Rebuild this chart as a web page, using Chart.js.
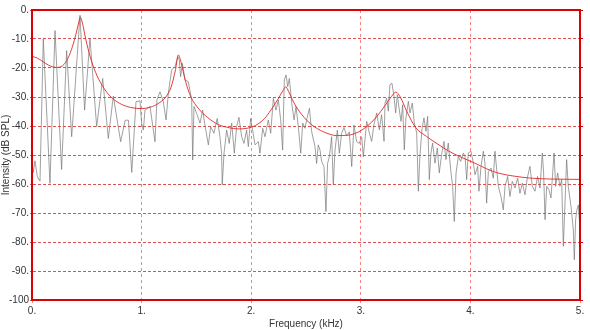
<!DOCTYPE html>
<html>
<head>
<meta charset="utf-8">
<script src="https://cdn.jsdelivr.net/npm/chart.js@4/dist/chart.umd.min.js"></script>
<style>
html,body{margin:0;padding:0;background:#fff;}
#wrap{width:590px;height:330px;position:relative;}
</style>
</head>
<body>
<div id="wrap"><canvas id="c" width="590" height="330"></canvas></div>
<script>
// Spectrum (gray) frequencies in kHz and levels in dB SPL
const specFreq = [0.0,0.012,0.027,0.049,0.073,0.103,0.164,0.21,0.27,0.316,0.362,0.438,0.48,0.529,0.59,0.645,0.696,0.742,0.809,0.85,0.88,0.91,0.949,0.985,1.0,1.016,1.031,1.077,1.122,1.14,1.168,1.198,1.223,1.244,1.274,1.305,1.33,1.344,1.356,1.372,1.396,1.426,1.457,1.466,1.478,1.502,1.533,1.557,1.578,1.609,1.63,1.66,1.69,1.715,1.73,1.736,1.752,1.776,1.8,1.822,1.846,1.867,1.888,1.913,1.934,1.958,1.974,1.995,2.013,2.035,2.065,2.08,2.105,2.126,2.156,2.178,2.202,2.226,2.248,2.269,2.287,2.302,2.318,2.333,2.348,2.37,2.391,2.409,2.43,2.452,2.47,2.491,2.506,2.531,2.552,2.582,2.597,2.612,2.628,2.643,2.664,2.682,2.697,2.713,2.734,2.749,2.765,2.786,2.804,2.825,2.847,2.871,2.895,2.917,2.938,2.962,2.986,3.008,3.023,3.038,3.054,3.078,3.099,3.12,3.145,3.169,3.19,3.212,3.221,3.236,3.251,3.266,3.284,3.303,3.318,3.333,3.351,3.367,3.382,3.397,3.412,3.434,3.449,3.47,3.488,3.51,3.525,3.54,3.558,3.576,3.595,3.61,3.625,3.64,3.655,3.677,3.698,3.716,3.737,3.759,3.777,3.798,3.82,3.838,3.853,3.869,3.89,3.911,3.935,3.951,3.966,3.981,4.005,4.027,4.042,4.066,4.078,4.097,4.118,4.133,4.148,4.164,4.188,4.209,4.224,4.24,4.255,4.279,4.3,4.316,4.34,4.361,4.382,4.407,4.431,4.452,4.474,4.498,4.519,4.543,4.565,4.589,4.613,4.635,4.656,4.668,4.681,4.696,4.717,4.735,4.751,4.763,4.778,4.796,4.817,4.833,4.848,4.863,4.878,4.893,4.918,4.939,4.948,4.96,4.972,4.985,4.994,5.0];
const specDb = [-52.9,-56,-52,-57.5,-59,-10,-59.8,-7.1,-55,-14,-43.7,-1.8,-34.5,-9.8,-40.2,-23.6,-44.3,-29.7,-45.4,-38,-38,-56,-31.6,-31.3,-39,-41.4,-34.5,-33.3,-45.4,-31,-28.2,-31.6,-37.9,-28.7,-20.7,-19.5,-16.1,-17.2,-23,-18.4,-24.1,-24.7,-31,-51.7,-33.3,-35.6,-39,-34.5,-39.7,-46.5,-40.2,-42.5,-37.4,-43.7,-49.4,-60.3,-49.4,-41.4,-46,-39,-49.4,-40.2,-37,-43.7,-46,-41.4,-47.1,-37.4,-41.4,-46.5,-45.4,-49.4,-40.8,-43.7,-37.9,-42.5,-30.5,-34.5,-31,-37.9,-48.3,-24.1,-22.4,-26.4,-23.6,-32.2,-37.9,-33.3,-40.2,-49.4,-39,-40.8,-37.9,-33.9,-42,-47.1,-52.9,-46.5,-48.3,-52.3,-54,-69.5,-52.9,-50.6,-43.7,-60.3,-48.3,-41.4,-49.4,-42.5,-40.5,-43.4,-42,-54,-39.7,-45.4,-46,-43.7,-50.6,-44.7,-38.4,-42.4,-45.3,-39.5,-35.5,-41.3,-36.1,-45.3,-32.1,-30.4,-34.9,-25.8,-25.2,-29.8,-35.5,-29.2,-34.4,-38.4,-32.7,-48.2,-37.2,-31.5,-35.5,-32.1,-38.9,-42.4,-62.5,-49.9,-41.3,-37.2,-41.8,-36.7,-58.5,-49.3,-45.9,-52.8,-47.6,-56.2,-49.9,-45.3,-51.6,-45.9,-55.1,-60.8,-72.9,-56.2,-50.5,-52.2,-49.3,-50.5,-58.5,-49.3,-48.7,-52.8,-56.8,-53.9,-62.5,-53.9,-48.7,-52.8,-66.6,-55.7,-54.5,-58,-48.7,-55.1,-60.8,-64.3,-68.9,-60.8,-57.4,-64.3,-59.1,-61.4,-58,-63.2,-59.7,-63.7,-58,-53.9,-60.8,-62.5,-57.4,-61.4,-49.3,-56.2,-72.3,-60.8,-62,-64.8,-56.2,-49.3,-60.8,-56.2,-60.8,-58.5,-81.5,-66.6,-51.6,-60.8,-67.7,-75.8,-86.1,-72.3,-68.9,-67.2,-72.3,-75.8];

// LPC envelope (red)
const envFreq = [0.0,0.05,0.10,0.15,0.22,0.28,0.33,0.37,0.40,0.425,0.44,0.46,0.49,0.53,0.58,0.64,0.71,0.80,0.90,1.00,1.08,1.15,1.22,1.27,1.31,1.335,1.36,1.40,1.45,1.52,1.60,1.70,1.80,1.88,1.96,2.04,2.12,2.18,2.24,2.29,2.315,2.34,2.39,2.46,2.55,2.66,2.78,2.88,2.98,3.06,3.14,3.22,3.28,3.32,3.36,3.42,3.50,3.60,3.70,3.80,3.90,4.04,4.15,4.25,4.40,4.56,4.75,5.00];
const envDb = [-16.0,-16.6,-17.8,-19.0,-19.8,-19.2,-16.5,-12.5,-8.5,-4.5,-2.5,-4.5,-10,-16,-21.5,-26,-29.6,-32.2,-33.6,-34,-33.5,-32.3,-30,-26.5,-20.5,-15.5,-18,-24.5,-30,-34,-37,-39.5,-40.6,-41,-40.8,-39.8,-37.5,-34.5,-31,-27.8,-26.5,-28,-32,-36,-39.5,-42,-43.3,-43.2,-42,-40,-37,-33,-29.8,-28.3,-30,-35,-40.5,-43.6,-46.2,-48.6,-50.5,-52.8,-54.8,-56.2,-57.3,-58,-58.3,-58.4];

const xTicks = [0,1,2,3,4,5];
const yTicks = [0,-10,-20,-30,-40,-50,-60,-70,-80,-90,-100];

const spec = specFreq.map((f,i)=>({x:f,y:specDb[i]}));
const env = envFreq.map((f,i)=>({x:f,y:envDb[i]}));

const frame = {
  id:'frame',
  afterDatasetsDraw(chart){
    const a = chart.chartArea, ctx = chart.ctx;
    ctx.save();
    ctx.strokeStyle = '#dd0000';
    ctx.lineWidth = 2;
    ctx.strokeRect(a.left, a.top, a.right-a.left, a.bottom-a.top);
    ctx.restore();
  }
};

const font = {family:'Arial, "Liberation Sans", sans-serif', size:10};

new Chart(document.getElementById('c'), {
  type:'line',
  data:{datasets:[
    {data:spec, borderColor:'rgba(120,120,120,0.7)', borderWidth:1, pointRadius:0, tension:0, order:2},
    {data:env, borderColor:'rgba(225,40,40,0.9)', borderWidth:1, pointRadius:0, cubicInterpolationMode:'monotone', order:1}
  ]},
  options:{
    responsive:false, animation:false,
    layout:{padding:{top:10,left:0,right:0,bottom:0}},
    plugins:{legend:{display:false}, tooltip:{enabled:false}},
    scales:{
      x:{type:'linear', min:0, max:5,
        afterBuildTicks(s){ s.ticks = xTicks.map(v=>({value:v})); },
        afterFit(s){ s.height = 30; },
        ticks:{font, color:'#333', padding:2, maxRotation:0, callback:v=>v+'.'},
        grid:{color:'rgba(240,110,110,0.85)', lineWidth:1, tickLength:3, drawTicks:true},
        border:{display:true, color:'#dd0000', width:2, dash:[3,3]},
        title:{display:true, text:'Frequency (kHz)', font, color:'#333', padding:{top:0,bottom:0}}
      },
      y:{type:'linear', min:-100, max:0, position:'left',
        afterBuildTicks(s){ s.ticks = yTicks.map(v=>({value:v})); },
        afterFit(s){ s.width = 32; },
        ticks:{font, color:'#333', padding:1, callback:v=> v===-100 ? '-100' : v+'.'},
        grid:{color:'rgba(215,50,50,0.85)', lineWidth:1, tickLength:2},
        border:{display:true, color:'#dd0000', width:2, dash:[3,2]},
        title:{display:true, text:'Intensity (dB SPL)', font, color:'#333', padding:{top:0,bottom:2}}
      },
      y2:{type:'linear', min:-100, max:0, position:'right',
        afterBuildTicks(s){ s.ticks = yTicks.map(v=>({value:v})); },
        afterFit(s){ s.width = 10; },
        ticks:{display:false},
        grid:{drawOnChartArea:false, color:'#dd0000', tickLength:3},
        border:{display:true, color:'#dd0000', width:2}
      }
    }
  },
  plugins:[frame]
});
</script>
</body>
</html>
